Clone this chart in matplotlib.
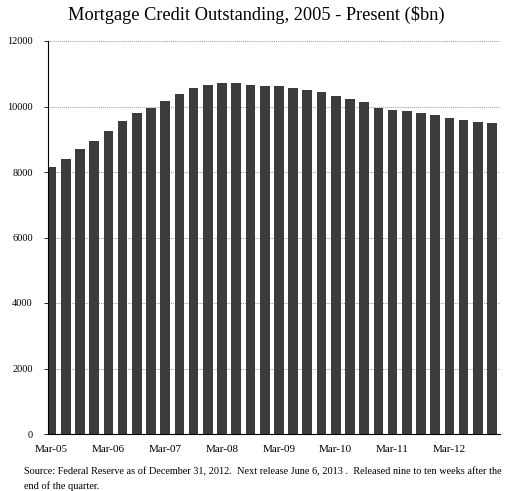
import matplotlib.pyplot as plt

quarters = [f'{m}-{y:02d}' for y in range(5, 13) for m in ('Mar', 'Jun', 'Sep', 'Dec')]
credit = [8150, 8400, 8700, 8950, 9260, 9560, 9800, 9960,
          10175, 10390, 10550, 10645, 10730, 10730, 10670, 10620,
          10620, 10570, 10510, 10450, 10320, 10240, 10140, 9960,
          9900, 9850, 9800, 9730, 9650, 9590, 9530, 9500]
yticks = [0, 2000, 4000, 6000, 8000, 10000, 12000]

plt.rcParams['font.family'] = ['Liberation Serif', 'DejaVu Serif']

fig = plt.figure(figsize=(5.12, 4.91), dpi=100, facecolor='w')
ax = fig.add_axes([48 / 512, 1 - 434 / 491, 452 / 512, 393 / 491])

x = list(range(len(credit)))
ax.bar(x, credit, width=0.68, color='#3c3c3c', zorder=2)

ax.set_ylim(0, 12000)
ax.set_xlim(-0.25, len(credit) - 0.44)
ax.set_yticks(yticks)
ax.set_yticklabels([str(v) for v in yticks], fontsize=7.5)
ax.set_xticks(x[::4])
ax.set_xticklabels(quarters[::4], fontsize=8)
ax.tick_params(axis='x', length=0, pad=8)
ax.tick_params(axis='y', length=3, width=0.6, pad=8)
ax.grid(axis='y', color='#999999', linestyle=(0, (1, 1)), linewidth=0.7, zorder=1)

for spine in ('top', 'right'):
    ax.spines[spine].set_visible(False)
ax.spines['left'].set_linewidth(0.8)
ax.spines['bottom'].set_linewidth(0.8)

fig.text(0.5, 1 - 15 / 491, 'Mortgage Credit Outstanding, 2005 - Present ($bn)',
         ha='center', va='center', fontsize=13.2)
fig.text(24 / 512, 1 - 472 / 491,
         'Source: Federal Reserve as of December 31, 2012.  Next release June 6, 2013 .  '
         'Released nine to ten weeks after the',
         ha='left', va='center', fontsize=7.4)
fig.text(24 / 512, 1 - 486 / 491, 'end of the quarter.',
         ha='left', va='center', fontsize=7.4)

fig.savefig('out.png', dpi=100)
